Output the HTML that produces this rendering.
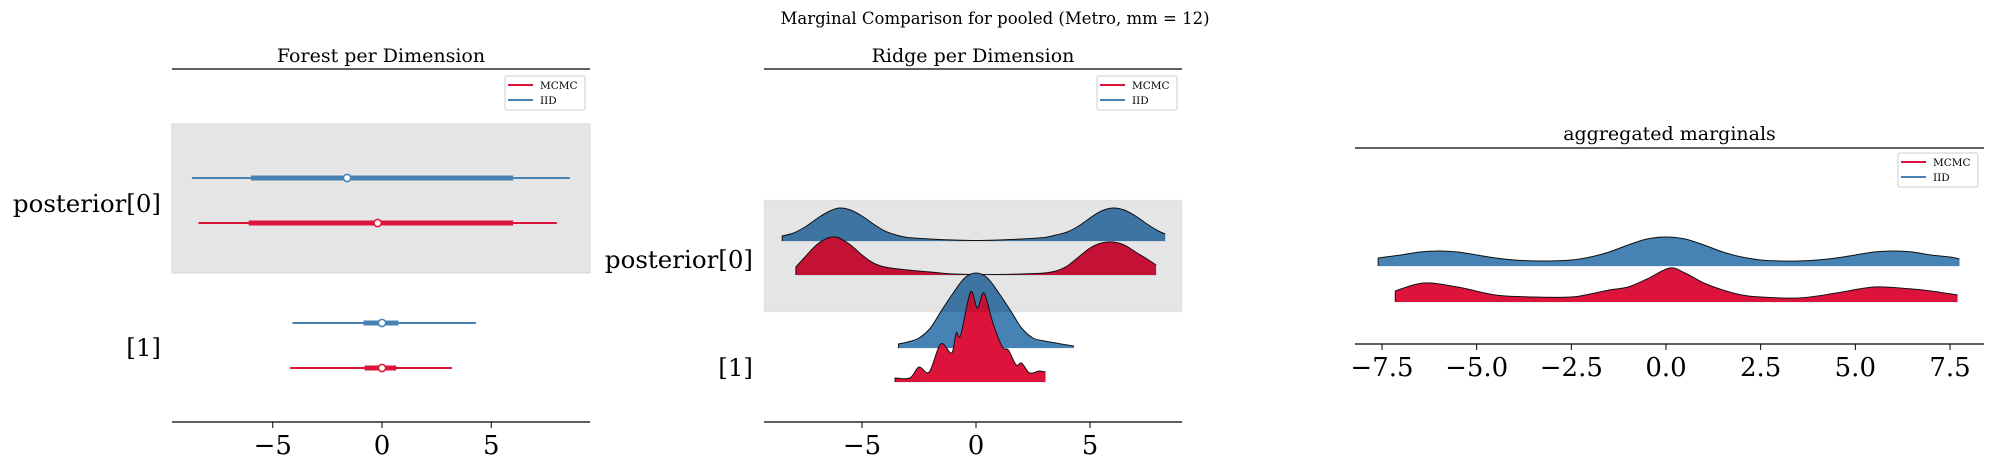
<!DOCTYPE html>
<html><head><meta charset="utf-8"><style>
html,body{margin:0;padding:0;background:#fff;}
svg{display:block;font-family:"DejaVu Serif","Liberation Serif",serif;}
</style></head><body>
<svg id="fig" width="1990" height="465" viewBox="0 0 1990 465" xmlns="http://www.w3.org/2000/svg">
<text x="995" y="24" text-anchor="middle" font-size="16.5">Marginal Comparison for pooled (Metro, mm = 12)</text>
</svg>
<script>
// ---- Forest data ----
const forestRows = ["posterior[0]", "[1]"];
const forestIIDLow = [-8.7, -4.1];
const forestIIDHigh = [8.6, 4.3];
const forestIIDQ1 = [-6.0, -0.85];
const forestIIDQ3 = [6.0, 0.75];
const forestIIDMid = [-1.6, 0.0];
const forestMCMCLow = [-8.4, -4.2];
const forestMCMCHigh = [8.0, 3.2];
const forestMCMCQ1 = [-6.1, -0.8];
const forestMCMCQ3 = [6.0, 0.65];
const forestMCMCMid = [-0.2, 0.0];
const forestTicks = [-5, 0, 5];
// ---- Ridge data (x grid and density heights) ----
const ridgeIID0X = [-8.5,-8,-7.5,-7,-6.5,-6,-5.5,-5,-4.5,-4,-3.5,-3,-2,-1,0,1,2,3,3.5,4,4.5,5,5.5,6,6.5,7,7.5,8,8.3];
const ridgeIID0Y = [0.025,0.04,0.07,0.11,0.145,0.165,0.155,0.125,0.085,0.05,0.03,0.0175,0.01,0.005,0.0025,0.005,0.01,0.0175,0.03,0.045,0.075,0.115,0.15,0.165,0.155,0.125,0.085,0.05,0.035];
const ridgeMCMC0X = [-7.9,-7.5,-7,-6.5,-6.2,-6,-5.5,-5,-4.5,-4,-3,-2,-1,0,1,2,3,3.5,4,4.5,5,5.5,6,6.5,7,7.5,7.9];
const ridgeMCMC0Y = [0.04,0.09,0.15,0.185,0.19,0.185,0.15,0.1,0.06,0.04,0.025,0.015,0.005,0.0025,0.0025,0.005,0.01,0.02,0.045,0.09,0.135,0.16,0.165,0.15,0.115,0.08,0.05];
const ridgeIID1X = [-3.4,-3,-2.5,-2,-1.5,-1,-0.5,0,0.5,1,1.5,2,2.5,3,3.5,4,4.3];
const ridgeIID1Y = [0.02,0.03,0.05,0.1,0.19,0.275,0.35,0.375,0.35,0.275,0.19,0.1,0.05,0.035,0.025,0.015,0.01];
const ridgeMCMC1X = [-3.55,-2.9,-2.5,-2.05,-1.55,-1.07,-0.87,-0.67,-0.24,0.06,0.35,0.74,1.16,1.42,1.76,2.0,2.35,2.77,3.05];
const ridgeMCMC1Y = [0.02,0.02,0.075,0.05,0.19,0.145,0.245,0.235,0.45,0.37,0.445,0.295,0.175,0.16,0.085,0.095,0.045,0.055,0.05];
const ridgeTicks = [-5, 0, 5];
// ---- Aggregated data ----
const aggIIDX = [-7.6,-7,-6.5,-6,-5.5,-5,-4.5,-4,-3.3,-2.5,-2,-1.5,-1,-0.5,0,0.5,1,1.5,2,2.5,3,3.5,4,4.5,5,5.5,6,6.5,7,7.5,7.75];
const aggIIDY = [0.04,0.055,0.07,0.075,0.07,0.055,0.04,0.03,0.025,0.03,0.045,0.07,0.105,0.135,0.145,0.135,0.105,0.07,0.045,0.03,0.025,0.025,0.03,0.04,0.055,0.07,0.075,0.07,0.055,0.045,0.035];
const aggMCMCX = [-7.15,-6.4,-5.5,-4.5,-3.5,-2.5,-2,-1.5,-1,-0.5,0.1,0.5,1,1.5,2,2.5,3.5,4.5,5.5,6.5,7,7.7];
const aggMCMCY = [0.055,0.095,0.075,0.035,0.025,0.025,0.04,0.06,0.075,0.115,0.17,0.145,0.095,0.06,0.035,0.025,0.02,0.045,0.075,0.065,0.055,0.035];
const aggTicks = [-7.5, -5.0, -2.5, 0.0, 2.5, 5.0, 7.5];

const NS = "http://www.w3.org/2000/svg";
const svg = document.getElementById('fig');
const BLUE = "#4682b4", RED = "#dc143c";
function mk(tag, attrs, parent) {
  const e = document.createElementNS(NS, tag);
  for (const k in attrs) e.setAttribute(k, attrs[k]);
  (parent || svg).appendChild(e);
  return e;
}
function fmt(v, dec) { const s = Math.abs(v).toFixed(dec); return (v < 0 ? "\u2212" : "") + s; }
function linear(d0, d1, r0, r1) { return v => r0 + (v - d0) / (d1 - d0) * (r1 - r0); }

function axesFrame(x0, x1, yTop, yBot, title, titleY, sx, ticks, dec, name) {
  const g = mk('g', {});
  
  
  const t = mk('text', {x: (x0 + x1) / 2, y: titleY, 'text-anchor': 'middle', 'font-size': 19}, g);
  t.textContent = title;
  
  
  const tl = mk('line', {x1: x0, x2: x1, y1: yTop, y2: yTop, stroke: '#000', 'stroke-width': 1.3}, g);
  
  
  const bl = mk('line', {x1: x0, x2: x1, y1: yBot, y2: yBot, stroke: '#000', 'stroke-width': 1.3}, g);
  
  
  ticks.forEach(v => {
    const x = sx(v);
    const tk = mk('line', {x1: x, x2: x, y1: yBot, y2: yBot + 6, stroke: '#000', 'stroke-width': 1}, g);
    
    
    const lb = mk('text', {x: x, y: yBot + 32, 'text-anchor': 'middle', 'font-size': 26}, g);
    lb.textContent = fmt(v, dec);
    
    
  });
  return g;
}
function legend(x, y, name) {
  const g = mk('g', {});
  
  
  mk('rect', {x: x, y: y, width: 80, height: 34, rx: 2, fill: '#fff', stroke: '#ccc', 'stroke-width': 1}, g);
  [["MCMC", RED], ["IID", BLUE]].forEach((it, i) => {
    const yy = y + 9 + i * 15;
    const e = mk('g', {}, g);
    
    
    mk('line', {x1: x + 3, x2: x + 28, y1: yy, y2: yy, stroke: it[1], 'stroke-width': 2}, e);
    const t = mk('text', {x: x + 35, y: yy + 4, 'font-size': 10.5}, e);
    t.textContent = it[0];
  });
}
function rowLabel(xr, y, txt, name) {
  const t = mk('text', {x: xr, y: y + 9, 'text-anchor': 'end', 'font-size': 24.5});
  t.textContent = txt;
  
  
}
function smoothPath(pts) {
  let d = `M${pts[0][0]},${pts[0][1]}`;
  for (let i = 0; i < pts.length - 1; i++) {
    const p0 = pts[Math.max(i - 1, 0)], p1 = pts[i], p2 = pts[i + 1], p3 = pts[Math.min(i + 2, pts.length - 1)];
    const c1 = [p1[0] + (p2[0] - p0[0]) / 6, p1[1] + (p2[1] - p0[1]) / 6];
    const c2 = [p2[0] - (p3[0] - p1[0]) / 6, p2[1] - (p3[1] - p1[1]) / 6];
    d += ` C${c1[0]},${c1[1]} ${c2[0]},${c2[1]} ${p2[0]},${p2[1]}`;
  }
  return d;
}
function ridge(xs, ys, sx, base, scale, fill, name) {
  const pts = xs.map((v, i) => [sx(v), base - ys[i] * scale]);
  const top = smoothPath(pts);
  const area = mk('path', {d: top + ` L${pts[pts.length - 1][0]},${base} L${pts[0][0]},${base} Z`, fill: fill});
  
  
  const ln = mk('path', {d: `M${pts[0][0]},${base} L${pts[0][0]},${pts[0][1]} ` + top.slice(top.indexOf('C')), fill: 'none', stroke: '#111', 'stroke-width': 1});
  
  
  mk('line', {x1: pts[0][0], x2: pts[pts.length - 1][0], y1: base + 0.5, y2: base + 0.5, stroke: '#e8eef5', 'stroke-width': 1});
}

// ===== Panel 1: Forest =====
const f1x = linear(0, 5, 382, 491.25);
const band1 = mk('rect', {x: 172, y: 124, width: 418, height: 149, fill: '#e5e5e5', stroke: '#d8d8d8'});


axesFrame(172, 590, 69, 422, 'Forest per Dimension', 62, f1x, forestTicks, 0, 'forest');
const rowYs1 = [200, 345];
forestRows.forEach((r, i) => {
  rowLabel(161, i === 0 ? 203 : 347, r, 'forest-row-label-' + i);
  [[forestIIDLow, forestIIDHigh, forestIIDQ1, forestIIDQ3, forestIIDMid, BLUE, -22, 'iid'],
   [forestMCMCLow, forestMCMCHigh, forestMCMCQ1, forestMCMCQ3, forestMCMCMid, RED, 23, 'mcmc']].forEach(s => {
    const y = rowYs1[i] + s[6];
    const g = mk('g', {});
    
    
    mk('line', {x1: f1x(s[0][i]), x2: f1x(s[1][i]), y1: y, y2: y, stroke: s[5], 'stroke-width': 2}, g);
    mk('line', {x1: f1x(s[2][i]), x2: f1x(s[3][i]), y1: y, y2: y, stroke: s[5], 'stroke-width': 5}, g);
    mk('circle', {cx: f1x(s[4][i]), cy: y, r: 3.6, fill: '#fff', stroke: s[5], 'stroke-width': 1.5}, g);
  });
});
legend(505, 76, 'forest');

// ===== Panel 2: Ridge =====
const f2x = linear(0, 5, 976, 1090);
axesFrame(764, 1182, 69, 422, 'Ridge per Dimension', 62, f2x, ridgeTicks, 0, 'ridge');
const RS = 200;
ridge(ridgeIID0X, ridgeIID0Y, f2x, 241, RS, BLUE, 'ridge-iid-0');
ridge(ridgeMCMC0X, ridgeMCMC0Y, f2x, 275, RS, RED, 'ridge-mcmc-0');
ridge(ridgeIID1X, ridgeIID1Y, f2x, 348, RS, BLUE, 'ridge-iid-1');
ridge(ridgeMCMC1X, ridgeMCMC1Y, f2x, 382, RS, RED, 'ridge-mcmc-1');
const band2 = mk('rect', {x: 764, y: 200, width: 418, height: 112, fill: 'rgba(0,0,0,0.1)', stroke: 'rgba(0,0,0,0.04)'});


rowLabel(753, 259, 'posterior[0]', 'ridge-row-label-0');
rowLabel(753, 367, '[1]', 'ridge-row-label-1');
legend(1097, 76, 'ridge');

// ===== Panel 3: Aggregated =====
const f3x = linear(0, 7.5, 1666, 1950);
axesFrame(1355, 1984, 148, 344, 'aggregated marginals', 140, f3x, aggTicks, 1, 'aggregated');
ridge(aggIIDX, aggIIDY, f3x, 266, RS, BLUE, 'aggregated-iid');
ridge(aggMCMCX, aggMCMCY, f3x, 302, RS, RED, 'aggregated-mcmc');
legend(1898, 153, 'aggregated');
</script>
</body></html>
